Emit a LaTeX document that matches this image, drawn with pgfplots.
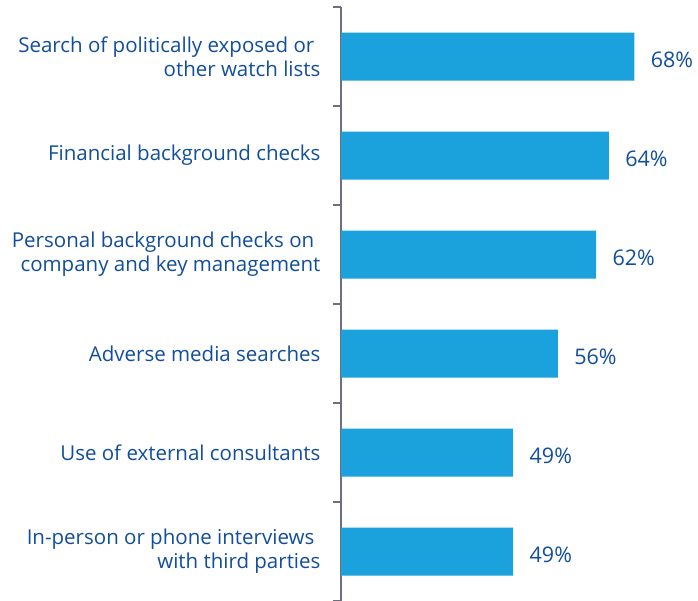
\documentclass[border=0pt]{standalone}
\usepackage{pgfplots}
\pgfplotsset{compat=1.18}
\usepackage{fontspec}
\setmainfont{Open Sans}
\definecolor{barblue}{HTML}{1BA1DB}
\definecolor{txtblue}{HTML}{114E9B}
\definecolor{axgray}{HTML}{6E6E80}
\begin{document}
\begin{tikzpicture}
    \path[use as bounding box] (0,0) rectangle (698pt,601pt);
    \begin{axis}[
            at={(341pt,0pt)},
            anchor=south west,
            scale only axis,
            width=357pt,
            height=594pt,
            xbar,
            bar width=48pt,
            xmin=22, xmax=78,
            ymin=-0.5, ymax=5.5,
            y dir=reverse,
            axis x line=none,
            axis y line=left,
            axis line style={-, draw=axgray, line width=1.2pt},
            ytick={0,...,5},
            yticklabels={
                    {Search of politically exposed or\hspace*{0.3em}\\other watch lists},
                    {Financial background checks},
                    {Personal background checks on\hspace*{0.3em}\\company and key management},
                    {Adverse media searches},
                    {Use of external consultants},
                    {In-person or phone interviews\hspace*{0.3em}\\with third parties}},
            major tick length=0pt,
            minor ytick={-0.5,0.5,...,5.5},
            minor tick length=8pt,
            tick align=outside,
            minor tick style={draw=axgray, line width=1.2pt},
            yticklabel style={align=right, font=\fontsize{20.5}{24}\selectfont,
                    text=txtblue, xshift=-17pt},
            /pgf/number format/assume math mode=true,
            nodes near coords={\pgfmathprintnumber\pgfplotspointmeta\%},
            nodes near coords align=horizontal,
            every node near coord/.append style={font=\fontsize{21.5}{24}\selectfont,
                    text=txtblue, xshift=13pt, yshift=-3pt},
            clip=false,
        ]
        \addplot[fill=barblue, draw=none] coordinates {
                (68,0)
                (64,1)
                (62,2)
                (56,3)
                (49,4)
                (49,5)
            };
    \end{axis}
\end{tikzpicture}
\end{document}
